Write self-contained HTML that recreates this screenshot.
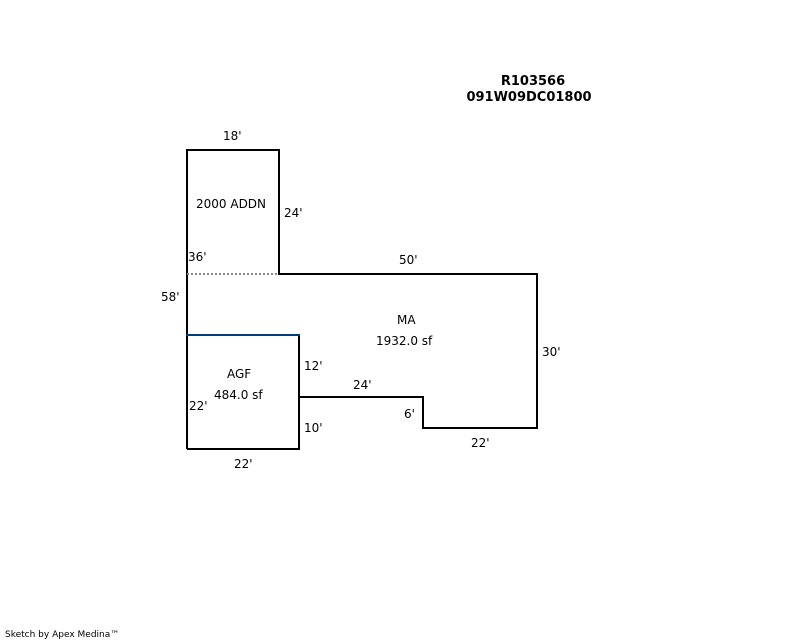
<!DOCTYPE html>
<html><head><meta charset="utf-8"><style>
html,body{margin:0;padding:0;background:#fff;width:800px;height:640px;overflow:hidden}
svg{display:block}
text{font-family:"DejaVu Sans","Liberation Sans",sans-serif;font-size:12px;fill:#000}
</style></head><body>
<svg width="800" height="640" viewBox="0 0 800 640">
<g fill="none" stroke="#000" stroke-width="2">
<path d="M187 449 V150 H279 V274 H537 V428 H423 V397 H299"/>
<path d="M299 335 V449 H187"/>
</g>
<line x1="187" y1="274" x2="279" y2="274" stroke="#888" stroke-width="2" stroke-dasharray="2,2"/>
<line x1="186" y1="335" x2="300" y2="335" stroke="#003c7e" stroke-width="2"/>
<text x="533" y="85" text-anchor="middle" font-weight="bold" style="font-weight:bold;font-size:13px">R103566</text>
<text x="529" y="101" text-anchor="middle" style="font-weight:bold;font-size:13px">091W09DC01800</text>
<text x="223" y="140">18'</text>
<text x="196" y="208">2000 ADDN</text>
<text x="284" y="217">24'</text>
<text x="188" y="261">36'</text>
<text x="399" y="264">50'</text>
<text x="161" y="301">58'</text>
<text x="397" y="324">MA</text>
<text x="376" y="345">1932.0 sf</text>
<text x="542" y="356">30'</text>
<text x="227" y="378">AGF</text>
<text x="304" y="370">12'</text>
<text x="353" y="389">24'</text>
<text x="214" y="399">484.0 sf</text>
<text x="189" y="410">22'</text>
<text x="404" y="418">6'</text>
<text x="304" y="432">10'</text>
<text x="471" y="447">22'</text>
<text x="234" y="468">22'</text>
<text x="5" y="637" style="font-size:9px">Sketch by Apex Medina™</text>
</svg>
</body></html>
